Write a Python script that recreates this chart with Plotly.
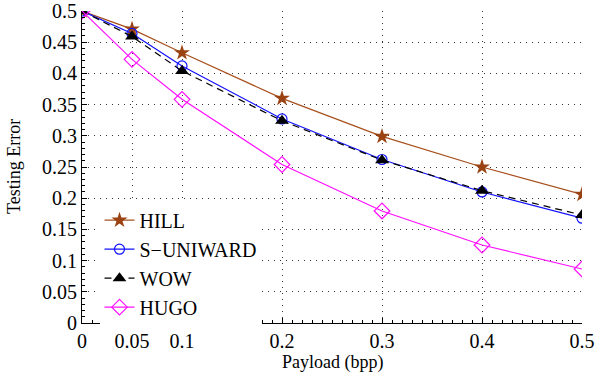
import plotly.graph_objects as go

payload = [0, 0.05, 0.1, 0.2, 0.3, 0.4, 0.5]
hill = [0.5, 0.471, 0.433, 0.360, 0.299, 0.250, 0.206]
suniward = [0.5, 0.464, 0.412, 0.327, 0.262, 0.210, 0.168]
wow = [0.5, 0.459, 0.404, 0.324, 0.261, 0.212, 0.173]
hugo = [0.5, 0.4225, 0.3585, 0.254, 0.1795, 0.125, 0.0865]

x_ticks = [0, 0.05, 0.1, 0.2, 0.3, 0.4, 0.5]
y_ticks = [0, 0.05, 0.1, 0.15, 0.2, 0.25, 0.3, 0.35, 0.4, 0.45, 0.5]

FONT = "Liberation Serif, Times New Roman, serif"
TICKFONT = dict(family=FONT, size=20, color="black")

fig = go.Figure()
fig.add_trace(go.Scatter(x=payload, y=hill, name="HILL", mode="lines+markers",
                         line=dict(color="#A8501E", width=1.2),
                         marker=dict(symbol="star", size=12, color="#9A4212")))
fig.add_trace(go.Scatter(x=payload, y=suniward, name="S\u2212UNIWARD", mode="lines+markers",
                         line=dict(color="#1010FF", width=1.2),
                         marker=dict(symbol="circle-open", size=10, color="#1010FF", line=dict(width=1.2))))
fig.add_trace(go.Scatter(x=payload, y=wow, name="WOW", mode="lines+markers",
                         line=dict(color="black", width=1.2, dash="7px,5px"),
                         marker=dict(symbol="triangle-up", size=12, color="black")))
fig.add_trace(go.Scatter(x=payload, y=hugo, name="HUGO", mode="lines+markers",
                         line=dict(color="#FF10FF", width=1.2),
                         marker=dict(symbol="diamond-open", size=12, color="#FF10FF", line=dict(width=1.2))))

axis_common = dict(
    range=[0, 0.5], showgrid=True, gridcolor="#333", griddash="1px,5px", gridwidth=1,
    showline=True, linecolor="black", linewidth=1,
    ticks="inside", ticklen=5, tickcolor="black", tickfont=TICKFONT,
    minor=dict(ticks="inside", ticklen=3, dtick=0.01, tickcolor="black", showgrid=False),
    zeroline=False, automargin=False,
)

fig.update_layout(
    width=613, height=379,
    margin=dict(l=82, r=31, t=11, b=56),
    paper_bgcolor="white", plot_bgcolor="white",
    font=dict(family=FONT, size=20, color="black"),
    legend=dict(x=0.035, y=0.392, xanchor="left", yanchor="top",
                bgcolor="rgba(255,255,255,1)", borderwidth=0,
                font=dict(family=FONT, size=20, color="black"), tracegroupgap=0),
    xaxis=dict(axis_common, tickvals=x_ticks, ticktext=[str(v) for v in x_ticks]),
    yaxis=dict(axis_common, tickvals=y_ticks, ticktext=[("%g" % v) for v in y_ticks]),
    annotations=[
        dict(text="Payload (bpp)", xref="paper", yref="paper", x=0.5, y=-0.127,
             xanchor="center", yanchor="middle", showarrow=False,
             font=dict(family=FONT, size=18, color="black")),
        dict(text="Testing Error", xref="paper", yref="paper", x=-0.136, y=0.5,
             xanchor="center", yanchor="middle", showarrow=False, textangle=-90,
             font=dict(family=FONT, size=18, color="black")),
    ],
)

fig.write_html("out.html", config={"displayModeBar": False},
               post_script="document.body.style.margin='0';")
